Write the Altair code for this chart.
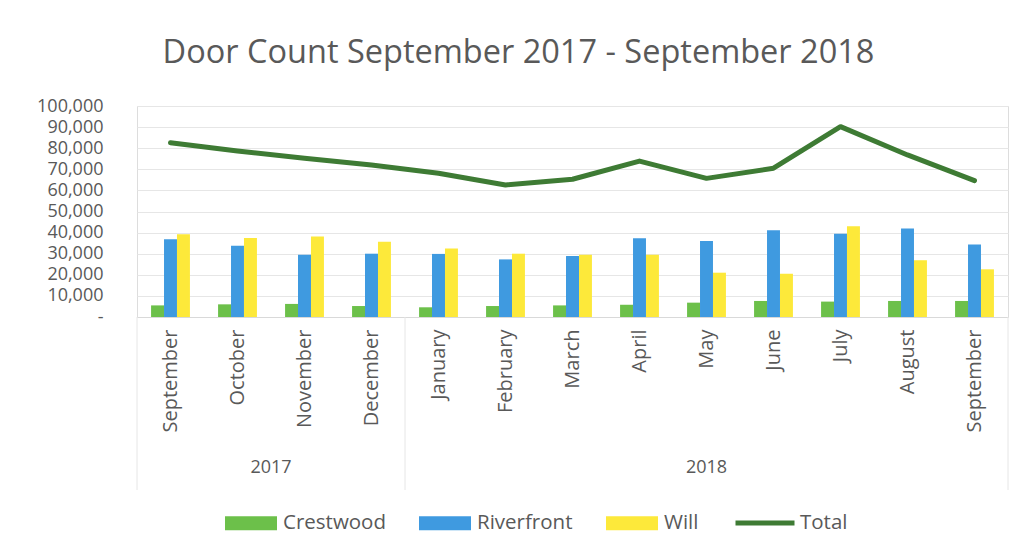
import altair as alt
import pandas as pd

keys = ["2017-09", "2017-10", "2017-11", "2017-12", "2018-01", "2018-02", "2018-03",
        "2018-04", "2018-05", "2018-06", "2018-07", "2018-08", "2018-09"]
month_names = ["September", "October", "November", "December", "January", "February", "March",
               "April", "May", "June", "July", "August", "September"]
years = ["2017", "2018"]

crestwood = [5500, 6000, 6200, 5200, 4600, 5200, 5500, 5800, 6800, 7600, 7300, 7600, 7600]
riverfront = [36800, 33800, 29500, 30000, 29900, 27300, 28900, 37300, 36000, 41100, 39500, 41900, 34400]
will = [39200, 37400, 38100, 35700, 32500, 30000, 29500, 29500, 21000, 20500, 43000, 26900, 22600]
total = [82600, 78700, 75200, 72000, 68100, 62600, 65300, 73900, 65700, 70500, 90200, 76800, 64600]

bar_series = ["Crestwood", "Riverfront", "Will"]
bar_colors = ["#6cc04a", "#3f9ae0", "#fde93a"]
line_series = ["Total"]
line_colors = ["#3e7b34"]

rows = []
for name, vals in zip(bar_series, [crestwood, riverfront, will]):
    for k, v in zip(keys, vals):
        rows.append({"key": k, "series": name, "value": v})
bars_df = pd.DataFrame(rows)
line_df = pd.DataFrame({"key": keys, "series": "Total", "value": total})

W, H = 871, 211
FONT = "Open Sans"
GRAY = "#595959"

label_map = "{" + ",".join(f"'{k}':'{m}'" for k, m in zip(keys, month_names)) + "}"

x_scale = alt.Scale(domain=keys, paddingInner=0.42, paddingOuter=0.21)
y_scale = alt.Scale(domain=[0, 100000], nice=False)

bar_legend = alt.Legend(
    orient="none", legendX=88, legendY=391, direction="horizontal", title=None,
    symbolType="M-1,-0.27L1,-0.27L1,0.27L-1,0.27Z", symbolSize=2704,
    symbolStrokeWidth=0, symbolOpacity=1,
    labelFont=FONT, labelFontSize=20.5, labelColor=GRAY, labelOffset=6,
    columnPadding=33,
)
line_legend = alt.Legend(
    orient="none", legendX=596, legendY=385, direction="horizontal", title=None,
    symbolType="stroke", symbolSize=3481, symbolStrokeWidth=5,
    labelFont=FONT, labelFontSize=20.5, labelColor=GRAY, labelOffset=3,
)

x_axis = alt.Axis(title=None, labelAngle=-90, labelExpr=f"{label_map}[datum.value]",
                  labelFont=FONT, labelFontSize=20, labelColor=GRAY, labelPadding=12,
                  ticks=False, domainColor="#d9d9d9", grid=False)
y_axis = alt.Axis(title=None, values=list(range(0, 100001, 10000)),
                  labelExpr="datum.value == 0 ? '-' : format(datum.value, ',')",
                  labelFont=FONT, labelFontSize=18, labelColor=GRAY, labelPadding=34,
                  labelOverlap=False, labelBound=False, ticks=False, domain=False,
                  gridColor="#e6e6e6", gridWidth=1)

bars = alt.Chart(bars_df).mark_bar(opacity=1).encode(
    x=alt.X("key:N", scale=x_scale, axis=x_axis, sort=keys),
    xOffset=alt.XOffset("series:N", scale=alt.Scale(domain=bar_series, paddingInner=0, paddingOuter=0)),
    y=alt.Y("value:Q", scale=y_scale, axis=y_axis),
    color=alt.Color("series:N", scale=alt.Scale(domain=bar_series, range=bar_colors), legend=bar_legend),
)

line = alt.Chart(line_df).mark_line(strokeWidth=5, strokeJoin="round", strokeCap="round").encode(
    x=alt.X("key:N", scale=x_scale, sort=keys, axis=None),
    y=alt.Y("value:Q", scale=y_scale, axis=y_axis),
    stroke=alt.Stroke("series:N", scale=alt.Scale(domain=line_series, range=line_colors), legend=line_legend),
)

sep_df = pd.DataFrame({"pos": [0, W * 4 / 13, W]})
seps = alt.Chart(sep_df).mark_rule(color="#e6e6e6", strokeWidth=1).encode(
    x=alt.X("pos:Q", scale=alt.Scale(domain=[0, W], range=[0, W]), axis=None),
    y=alt.value(H), y2=alt.value(H + 173),
)

year_df = pd.DataFrame({"year": years, "pos": [W * 2 / 13, W * 8.5 / 13]})
year_text = alt.Chart(year_df).mark_text(font=FONT, fontSize=18, color=GRAY, baseline="middle").encode(
    x=alt.X("pos:Q", scale=alt.Scale(domain=[0, W], range=[0, W]), axis=None),
    y=alt.value(H + 151),
    text="year:N",
)

chart = alt.layer(bars, line, seps, year_text).resolve_scale(x="independent").properties(
    width=W, height=H,
    title=alt.TitleParams("Door Count September 2017 - September 2018", font=FONT, fontSize=32.5,
                          fontWeight="normal", color=GRAY, anchor="middle", dx=-54, offset=28),
    autosize=alt.AutoSizeParams(type="none"),
    padding={"left": 137, "top": 106, "right": 16, "bottom": 239},
).configure_view(stroke=None).configure_axisY(labelOverlap=False).configure(background="white")

chart.save("out.html", embed_options={"renderer": "svg", "actions": False})
